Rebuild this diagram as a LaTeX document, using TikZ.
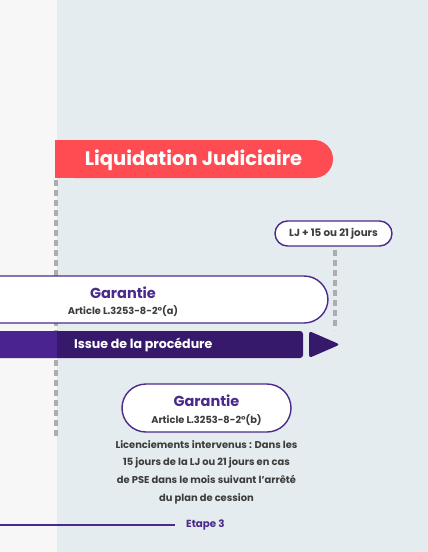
\documentclass[tikz,border=0pt]{standalone}
\usepackage{fontspec}
\setmainfont{Poppins}
\usetikzlibrary{calc}
\definecolor{bgL}{HTML}{F7F7F7}
\definecolor{bgR}{HTML}{E5ECEF}
\definecolor{redB}{HTML}{FF4B52}
\definecolor{purp}{HTML}{4A2A8C}
\definecolor{barD}{HTML}{36196B}
\definecolor{barL}{HTML}{4A2391}
\definecolor{dashG}{HTML}{ADADAD}
\definecolor{txtG}{HTML}{3C3C3C}
\begin{document}
\begin{tikzpicture}[x=1pt,y=-1pt,
  dashline/.style={draw=dashG,line width=3.2pt,dash pattern=on 6pt off 4pt},
  pillbox/.style={draw=purp,line width=1.4pt,fill=white},
  gtitle/.style={text=purp,font=\bfseries\fontsize{14.5}{16}\selectfont,inner sep=0pt},
  gsub/.style={text=txtG,font=\fontsize{9.8}{11}\selectfont\bfseries,inner sep=0pt},
]
\useasboundingbox (0,0) rectangle (428,552);
% backgrounds
\fill[bgL] (0,0) rectangle (57,552);
\fill[bgR] (57,0) rectangle (428,552);
% dashed lines
\coordinate (d1a) at (56,180);
\coordinate (d1b) at (56,438);
\coordinate (d2a) at (335,250);
\coordinate (d2b) at (335,330);
\draw[dashline] (d1a) -- (d1b);
\draw[dashline] (d2a) -- (d2b);
% red banner
\fill[redB,rounded corners=19pt] (55,140) -- (333,140) -- (333,178) -- (55,178) [sharp corners] -- cycle;
\fill[redB] (55,140) rectangle (80,178);
\node[text=white,font=\bfseries\fontsize{19.5}{22}\selectfont,inner sep=0pt] (lj) at (193.5,160) {Liquidation Judiciaire};
% LJ pill
\node[pillbox,rounded corners=12.5pt,minimum width=117pt,minimum height=25pt,inner sep=0pt,
  text=txtG,font=\bfseries\fontsize{10.3}{12}\selectfont] (delay) at (333.5,233.5) {LJ + 15 ou 21 jours};
% Garantie box 1
\draw[pillbox,rounded corners=24pt] (-20,276) -- (328,276) -- (328,323) -- (-20,323);
\node[gtitle] (g1) at (123,293) {Garantie};
\node[gsub] (g1s) at (123,311) {Article L.3253-8-2°(a)};
% issue bar
\fill[barD,rounded corners=3pt] (-10,331) -- (303,331) -- (303,358) -- (-10,358) -- cycle;
\fill[barL] (0,331) rectangle (57,358);
\node[text=white,font=\bfseries\fontsize{12.6}{14}\selectfont,anchor=west,inner sep=0pt] (issue) at (74,344.5) {Issue de la procédure};
\fill[barD,rounded corners=3pt] (309,331) -- (340,344.5) -- (309,358) -- cycle;
% Garantie box 2
\node[pillbox,rounded corners=24pt,minimum width=169pt,minimum height=48pt] (g2box) at (206.5,408) {};
\node[gtitle] (g2) at (206.5,401) {Garantie};
\node[gsub] (g2s) at (206.5,420) {Article L.3253-8-2°(b)};
% paragraph
\node[text=txtG,font=\bfseries\fontsize{9.9}{17.7}\selectfont,align=center,anchor=north,inner sep=0pt] (para) at (206.5,440)
  {Licenciements intervenus : Dans les\\15 jours de la LJ ou 21 jours en cas\\de PSE dans le mois suivant l'arrêté\\du plan de cession};
% etape
\node[text=purp,font=\bfseries\fontsize{10.3}{12}\selectfont,anchor=west,inner sep=0pt] (etape) at (186,525) {Etape 3};
\coordinate (el) at (0,525);
\draw[purp,line width=1.4pt] (el) -- ($(etape.west)+(-11,0)$);
\end{tikzpicture}
\end{document}
